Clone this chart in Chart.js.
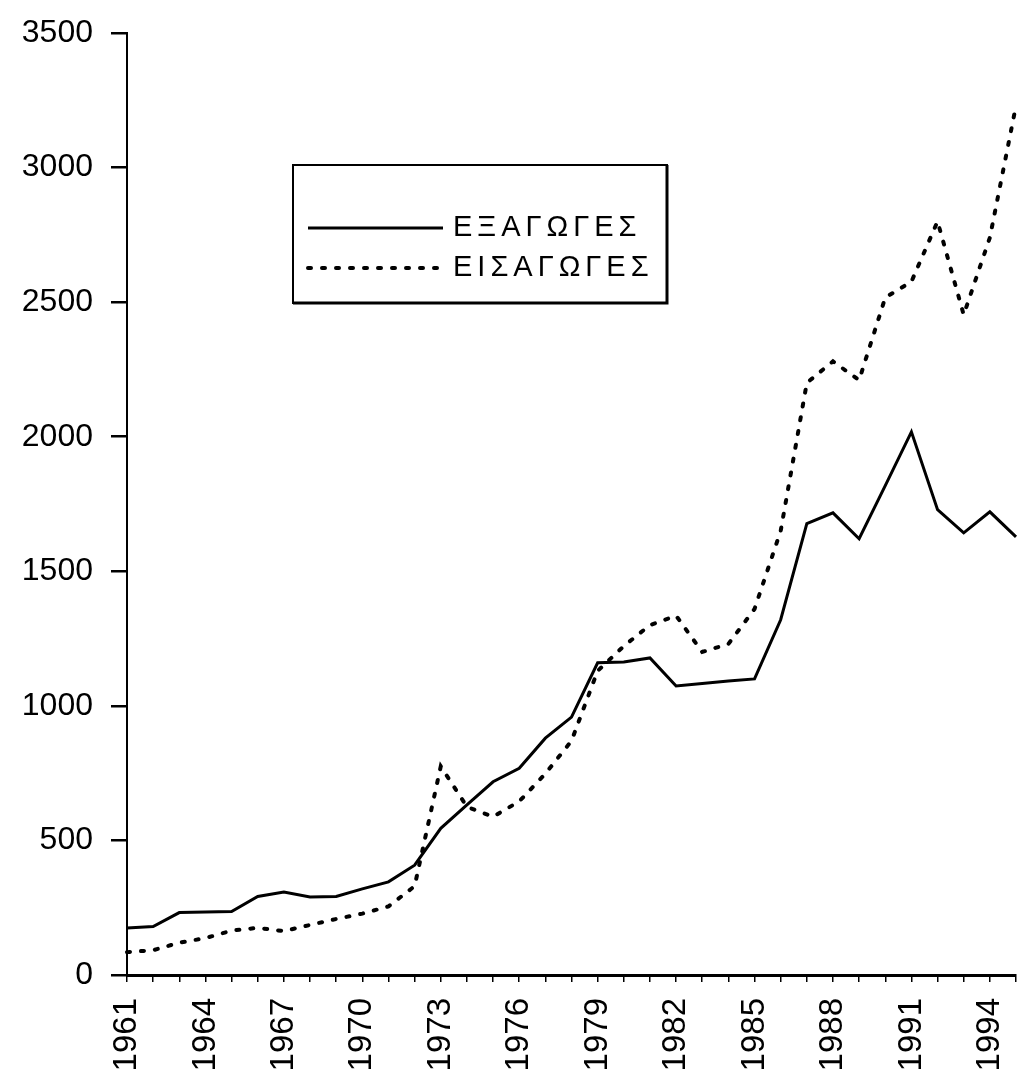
<!DOCTYPE html>
<html>
<head>
<meta charset="utf-8">
<script src="https://cdn.jsdelivr.net/npm/chart.js@4"></script>
<style>
  html, body { margin: 0; padding: 0; background: #fff; }
  #wrap { width: 1025px; height: 1082px; }
</style>
</head>
<body>
<div id="wrap"><canvas id="chart"></canvas></div>
<script>
// years on the x axis
const years = [];
for (let y = 1961; y <= 1995; y++) years.push(String(y));

// ΕΞΑΓΩΓΕΣ (exports) - solid line
const exportsData = [175, 180, 232, 234, 236, 292, 308, 290, 292, 320,
  346, 408, 545, 632, 718, 768, 880, 958, 1160, 1163,
  1178, 1074, 1083, 1092, 1100, 1320, 1677, 1717, 1621, 1818,
  2018, 1729, 1643, 1721, 1628];

// ΕΙΣΑΓΩΓΕΣ (imports) - dotted line
const importsData = [85, 92, 120, 137, 165, 175, 163, 186, 208, 228,
  255, 330, 775, 625, 588, 645, 748, 870, 1130, 1222,
  1300, 1335, 1200, 1230, 1360, 1650, 2200, 2280, 2210, 2517,
  2576, 2800, 2453, 2740, 3230];

const seriesNames = ['ΕΞΑΓΩΓΕΣ', 'ΕΙΣΑΓΩΓΕΣ'];
const yTicks = [0, 500, 1000, 1500, 2000, 2500, 3000, 3500];

const FONT = 'Liberation Sans, Arial, sans-serif';

// legend drawn inside the plot, like the original
const boxLegend = {
  id: 'boxLegend',
  afterDraw(chart) {
    const ctx = chart.ctx;
    const x0 = 293, y0 = 165, x1 = 667, y1 = 303;
    ctx.save();
    ctx.strokeStyle = '#000';
    ctx.lineWidth = 2;
    ctx.strokeRect(x0, y0, x1 - x0, y1 - y0);
    ctx.lineWidth = 3;
    ctx.beginPath();
    ctx.moveTo(x0, y1); ctx.lineTo(x1, y1); ctx.lineTo(x1, y0);
    ctx.stroke();

    const rows = [228, 268];
    chart.data.datasets.forEach(function(ds, i) {
      ctx.beginPath();
      ctx.lineWidth = ds.borderWidth;
      ctx.setLineDash(ds.borderDash || []);
      ctx.lineCap = ds.borderCapStyle || 'butt';
      ctx.moveTo(308, rows[i]);
      ctx.lineTo(443, rows[i]);
      ctx.stroke();
      ctx.setLineDash([]);
      ctx.fillStyle = '#000';
      ctx.font = '29px ' + FONT;
      ctx.letterSpacing = '5px';
      ctx.textBaseline = 'middle';
      ctx.fillText(ds.label, 453, rows[i]);
    });
    ctx.restore();
  }
};

const ctx = document.getElementById('chart').getContext('2d');
const chart = new Chart(ctx, {
  type: 'line',
  data: {
    labels: years,
    datasets: [{
      label: seriesNames[0],
      data: exportsData,
      borderColor: '#000',
      borderWidth: 3,
      pointRadius: 0,
      tension: 0,
      fill: false
    }, {
      label: seriesNames[1],
      data: importsData,
      borderColor: '#000',
      borderWidth: 4,
      borderDash: [3, 11],
      borderCapStyle: 'round',
      pointRadius: 0,
      tension: 0,
      fill: false
    }]
  },
  options: {
    responsive: true,
    maintainAspectRatio: false,
    animation: false,
    layout: { padding: { top: 33, right: 9, left: 0, bottom: 0 } },
    plugins: {
      legend: { display: false },
      tooltip: { enabled: false }
    },
    scales: {
      x: {
        type: 'category',
        offset: false,
        border: { display: true, color: '#000', width: 3 },
        grid: { drawOnChartArea: false, color: '#000', lineWidth: 1.5, tickLength: 7 },
        ticks: {
          autoSkip: false,
          minRotation: 90,
          maxRotation: 90,
          padding: 16,
          color: '#000',
          font: { family: FONT, size: 33 },
          callback: function(val, idx) {
            return idx % 3 === 0 ? years[idx] : '';
          }
        },
        afterFit: function(scale) {
          scale.height = 107;
          scale.paddingLeft = 0;
          scale.paddingRight = 0;
        }
      },
      y: {
        min: 0,
        max: 3500,
        border: { display: true, color: '#000', width: 2 },
        grid: { drawOnChartArea: false, color: '#000', lineWidth: 2.5, tickLength: 16 },
        afterBuildTicks: function(scale) {
          scale.ticks = yTicks.map(function(v) { return { value: v }; });
        },
        ticks: {
          padding: 18,
          color: '#000',
          font: { family: FONT, size: 32 },
          callback: function(val) { return String(val); }
        },
        afterFit: function(scale) {
          scale.width = 127;
          scale.paddingTop = 0;
          scale.paddingBottom = 0;
        }
      }
    }
  },
  plugins: [boxLegend]
});
</script>
</body>
</html>
